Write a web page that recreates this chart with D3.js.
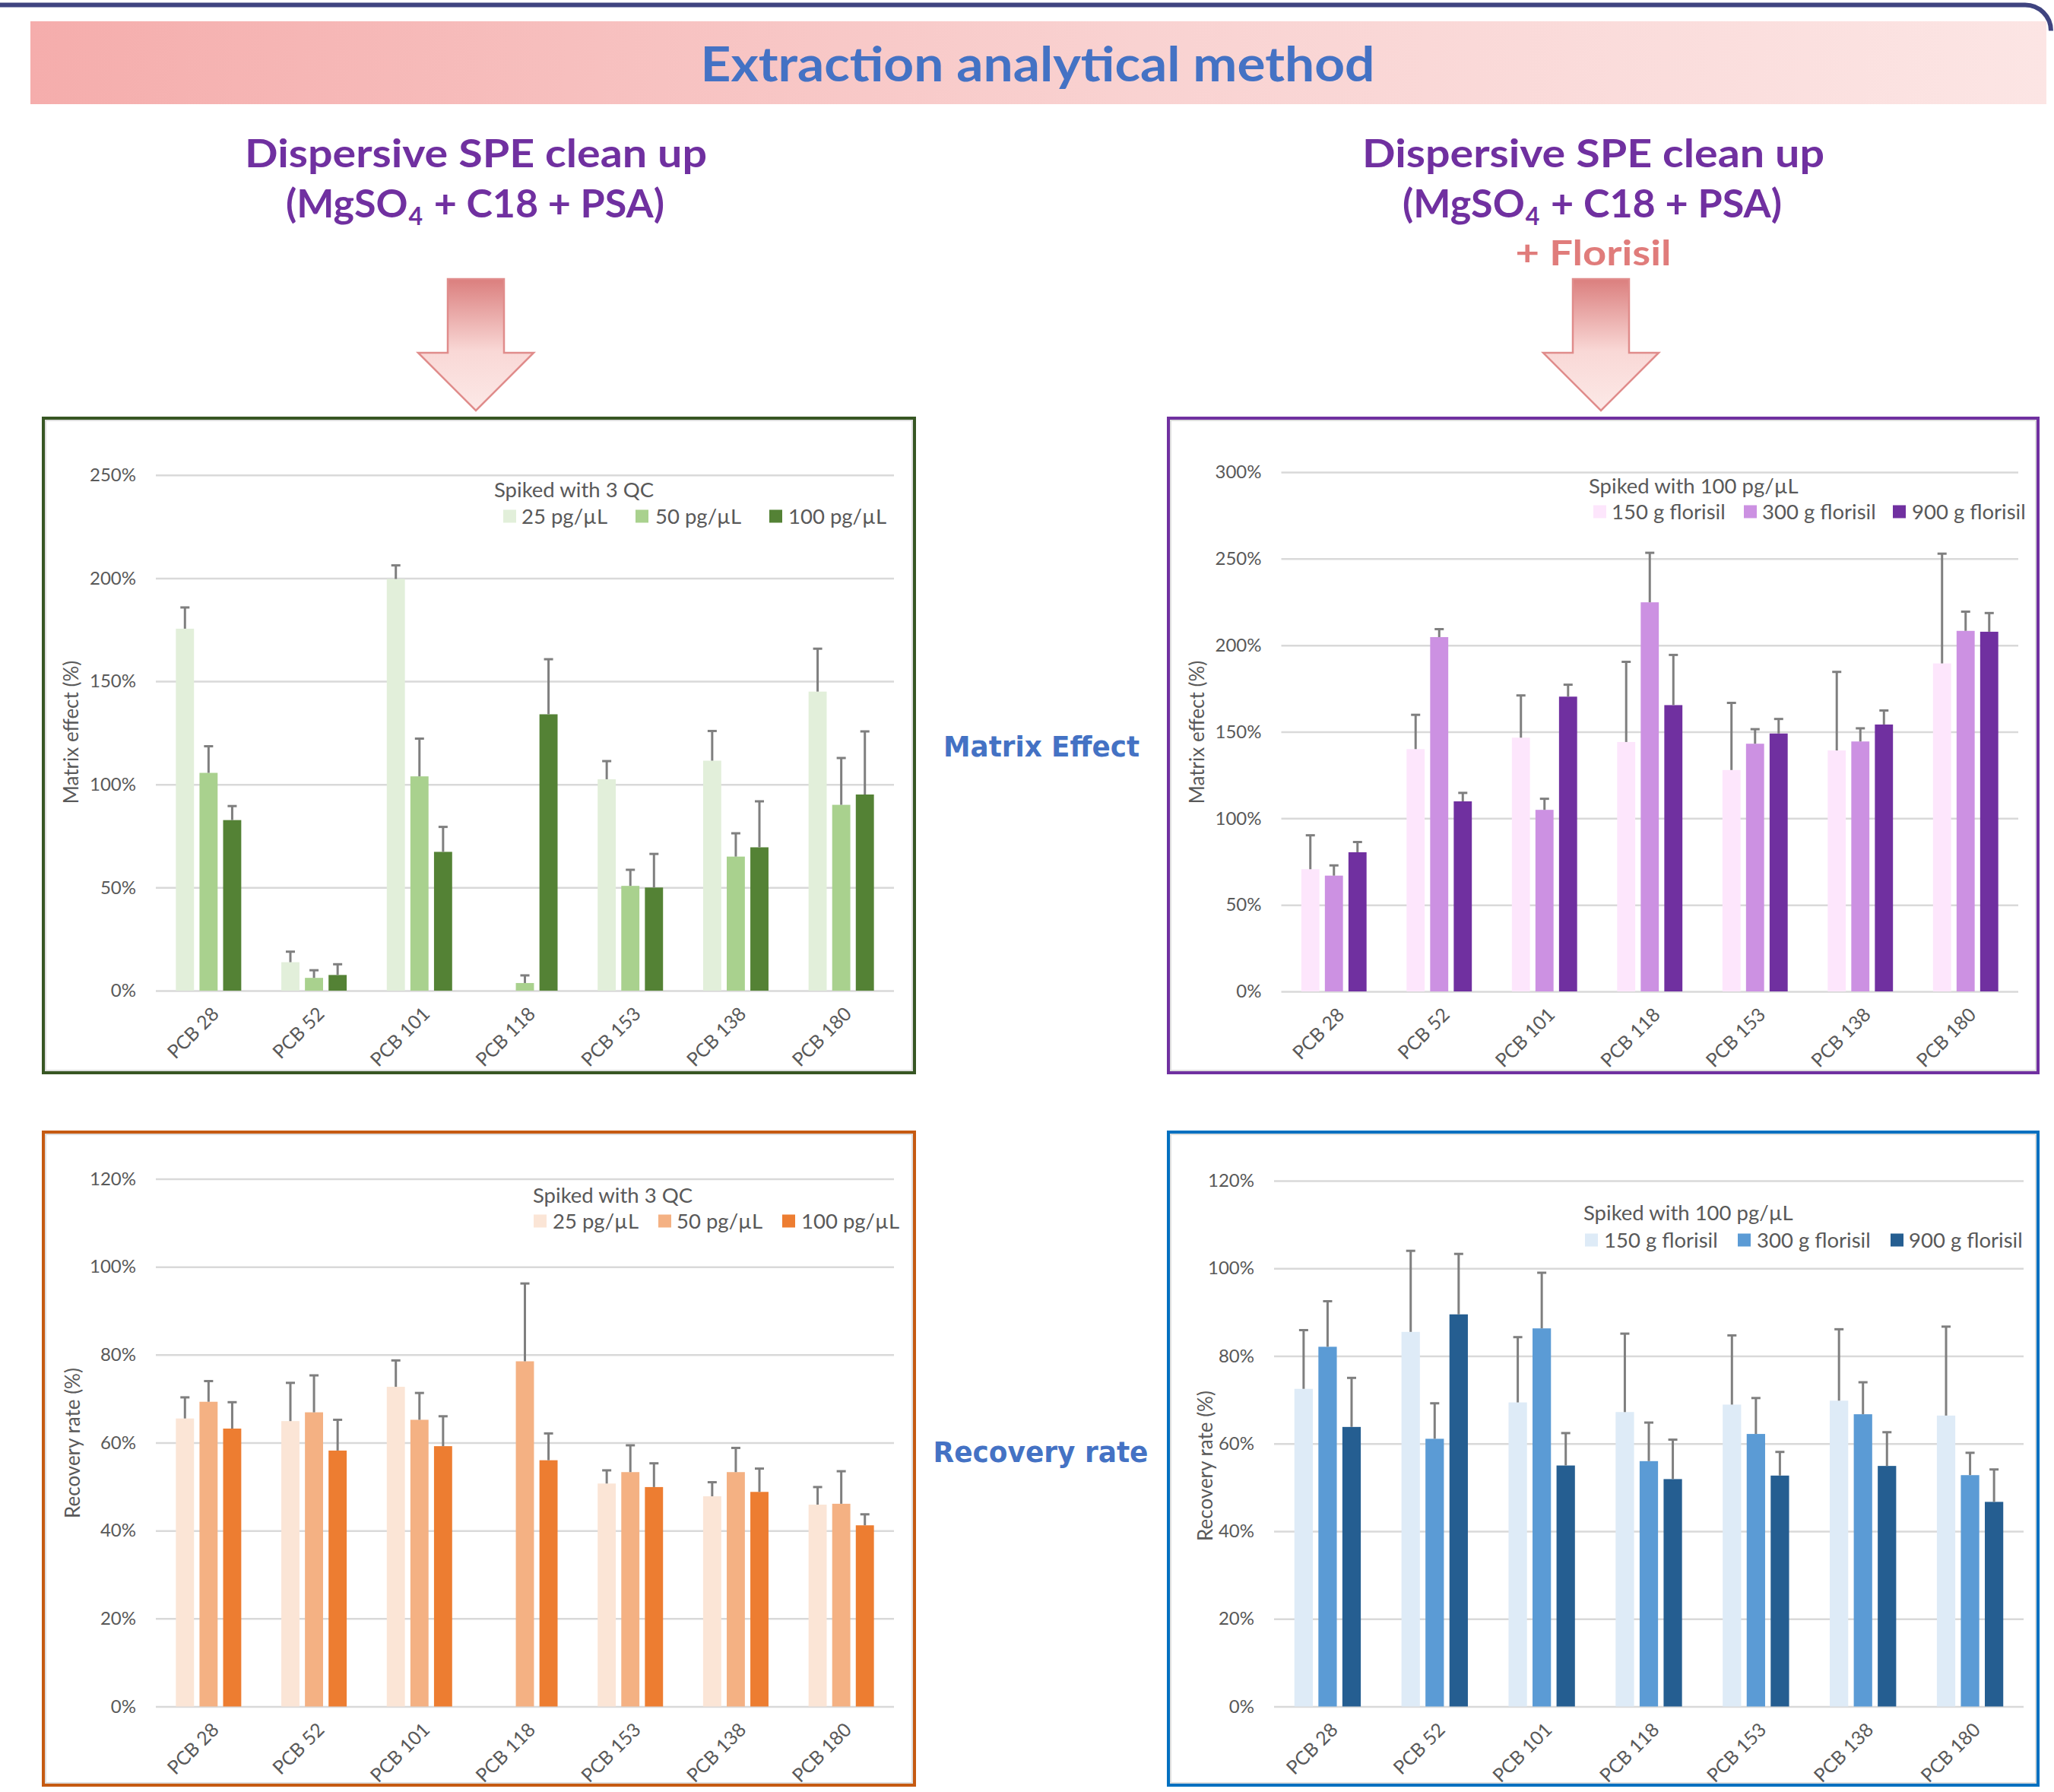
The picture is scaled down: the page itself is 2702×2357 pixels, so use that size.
<!DOCTYPE html>
<html>
<head>
<meta charset="utf-8">
<script src="https://cdn.jsdelivr.net/npm/d3@7"></script>
<style>
  html, body { margin: 0; padding: 0; background: #ffffff; }
  svg { display: block; }
</style>
</head>
<body>
<script>
// ---- Data ---------------------------------------------------------------
const categories = ["PCB 28", "PCB 52", "PCB 101", "PCB 118", "PCB 153", "PCB 138", "PCB 180"];
const qcLevels = ["25 pg/µL", "50 pg/µL", "100 pg/µL"];
const florisilLevels = ["150 g florisil", "300 g florisil", "900 g florisil"];

// Matrix effect (%) - dispersive SPE clean-up, spiked with 3 QC levels
const me25 = [175.5, 13.8, 199.6, null, 102.5, 111.5, 145.0];
const me25Err = [10.3, 5.1, 6.6, null, 8.8, 14.4, 20.8];
const me50 = [105.6, 6.2, 103.9, 3.7, 50.8, 65.0, 90.1];
const me50Err = [12.9, 3.7, 18.3, 3.7, 7.8, 11.3, 22.7];
const me100 = [82.7, 7.6, 67.3, 134.0, 50.0, 69.5, 95.1];
const me100Err = [6.8, 5.2, 12.1, 26.7, 16.3, 22.3, 30.6];

// Matrix effect (%) - dispersive SPE + florisil, spiked with 100 pg/µL
const mf150 = [70.6, 140.0, 146.6, 144.1, 127.9, 139.2, 189.5];
const mf150Err = [19.6, 19.8, 24.4, 46.3, 38.8, 45.4, 63.4];
const mf300 = [66.9, 204.7, 104.9, 224.8, 143.1, 144.4, 208.3];
const mf300Err = [5.9, 4.6, 6.4, 28.6, 8.4, 7.6, 11.1];
const mf900 = [80.4, 109.8, 170.3, 165.4, 149.0, 154.2, 207.8];
const mf900Err = [5.9, 4.9, 6.9, 29.0, 8.4, 8.1, 10.8];

// Recovery rate (%) - dispersive SPE clean-up, spiked with 3 QC levels
const rc25 = [65.5, 64.9, 72.7, null, 50.7, 47.8, 45.9];
const rc25Err = [4.8, 8.7, 6.0, null, 3.0, 3.2, 4.0];
const rc50 = [69.3, 66.9, 65.2, 78.5, 53.3, 53.3, 46.1];
const rc50Err = [4.7, 8.4, 6.1, 17.7, 6.1, 5.5, 7.4];
const rc100 = [63.2, 58.2, 59.2, 56.0, 49.9, 48.8, 41.2];
const rc100Err = [6.0, 7.0, 6.8, 6.1, 5.4, 5.3, 2.5];

// Recovery rate (%) - dispersive SPE + florisil, spiked with 100 pg/µL
const rf150 = [72.5, 85.5, 69.4, 67.2, 68.9, 69.8, 66.4];
const rf150Err = [13.4, 18.5, 14.9, 17.9, 15.8, 16.3, 20.3];
const rf300 = [82.1, 61.1, 86.3, 56.0, 62.2, 66.7, 52.8];
const rf300Err = [10.4, 8.1, 12.7, 8.8, 8.2, 7.3, 5.1];
const rf900 = [63.8, 89.5, 55.0, 51.9, 52.7, 54.9, 46.7];
const rf900Err = [11.2, 13.8, 7.4, 9.0, 5.4, 7.7, 7.4];

// ---- Canvas ---------------------------------------------------------------
const W = 2702, H = 2357;
const svg = d3.select("body").append("svg").attr("width", W).attr("height", H);
svg.append("rect").attr("width", W).attr("height", H).attr("fill", "#ffffff");

const defs = svg.append("defs");
const banner = defs.append("linearGradient").attr("id", "bannerGrad")
  .attr("x1", "0%").attr("x2", "100%").attr("y1", "0%").attr("y2", "0%");
banner.append("stop").attr("offset", "0%").attr("stop-color", "#f5adac");
banner.append("stop").attr("offset", "55%").attr("stop-color", "#f9d2d1");
banner.append("stop").attr("offset", "100%").attr("stop-color", "#fce5e4");

const arrowGrad = defs.append("linearGradient").attr("id", "arrowGrad")
  .attr("x1", "0%").attr("x2", "0%").attr("y1", "0%").attr("y2", "100%");
arrowGrad.append("stop").attr("offset", "0%").attr("stop-color", "#db7f7e");
arrowGrad.append("stop").attr("offset", "55%").attr("stop-color", "#f9d8d6");
arrowGrad.append("stop").attr("offset", "100%").attr("stop-color", "#fce9e7");

// ---- Header -------------------------------------------------------------
svg.append("path")
  .attr("d", "M0,6.5 L2664,6.5 A34,34 0 0 1 2698,40.5")
  .attr("fill", "none").attr("stroke", "#3f4480").attr("stroke-width", 6);

svg.append("rect").attr("x", 40).attr("y", 28).attr("width", 2652).attr("height", 109)
  .attr("fill", "url(#bannerGrad)");

svg.append("text")
  .attr("x", 1365).attr("y", 107).attr("text-anchor", "middle")
  .attr("font-family", "Lato").attr("font-weight", 700).attr("font-size", 64)
  .attr("fill", "#4472c4")
  .attr("textLength", 887).attr("lengthAdjust", "spacingAndGlyphs")
  .text("Extraction analytical method");

const purple = "#7030a0";

// Formula line built from separate pieces so the subscript sits on its own
function formulaLine(left, right, baseline) {
  const g = svg.append("g");
  const parts = [
    { t: "(MgSO", size: 52, dy: 0 },
    { t: "4", size: 32, dy: 10 },
    { t: "\u00a0+ C18 + PSA)", size: 52, dy: 0 }
  ];
  const nodes = parts.map(p => g.append("text")
    .attr("y", p.dy)
    .attr("font-family", "Lato").attr("font-weight", 700).attr("font-size", p.size)
    .attr("fill", purple).text(p.t));
  let pos = 0;
  nodes.forEach((n, i) => {
    n.attr("x", pos);
    pos += n.node().getComputedTextLength() + (i === 1 ? 2 : 1);
  });
  const k = (right - left) / pos;
  g.attr("transform", `translate(${left},${baseline}) scale(${k},1)`);
}

function headline(cx, left, right, fLeft, fRight, withFlorisil) {
  svg.append("text")
    .attr("x", cx).attr("y", 220).attr("text-anchor", "middle")
    .attr("font-family", "Lato").attr("font-weight", 700).attr("font-size", 52)
    .attr("fill", purple)
    .attr("textLength", right - left).attr("lengthAdjust", "spacingAndGlyphs")
    .text("Dispersive SPE clean up");
  formulaLine(fLeft, fRight, 286);
  if (withFlorisil) {
    svg.append("text")
      .attr("x", cx).attr("y", 349).attr("text-anchor", "middle")
      .attr("font-family", "Lato").attr("font-weight", 700).attr("font-size", 46)
      .attr("fill", "#e07c7b")
      .attr("textLength", 205).attr("lengthAdjust", "spacingAndGlyphs")
      .text("+ Florisil");
  }
}
headline(626, 322, 930, 376, 875, false);
headline(2096, 1792, 2400, 1845, 2345, true);

function arrow(cx) {
  const sw = 37, hw = 76, top = 367, neck = 464, tip = 540;
  svg.append("path")
    .attr("d", `M${cx - sw},${top} L${cx + sw},${top} L${cx + sw},${neck} L${cx + hw},${neck} ` +
               `L${cx},${tip} L${cx - hw},${neck} L${cx - sw},${neck} Z`)
    .attr("fill", "url(#arrowGrad)").attr("stroke", "#e08c8b").attr("stroke-width", 2.5);
}
arrow(626);
arrow(2106);

// Row labels between the panels
svg.append("text")
  .attr("x", 1370).attr("y", 995).attr("text-anchor", "middle")
  .attr("font-family", "DejaVu Sans").attr("font-weight", 700).attr("font-size", 38)
  .attr("fill", "#4472c4")
  .attr("textLength", 258).attr("lengthAdjust", "spacingAndGlyphs")
  .text("Matrix Effect");
svg.append("text")
  .attr("x", 1369).attr("y", 1923).attr("text-anchor", "middle")
  .attr("font-family", "DejaVu Sans").attr("font-weight", 700).attr("font-size", 38)
  .attr("fill", "#4472c4")
  .attr("textLength", 283).attr("lengthAdjust", "spacingAndGlyphs")
  .text("Recovery rate");

// ---- Bar panels ---------------------------------------------------------
const textGray = "#595959";

function drawPanel(cfg) {
  const g = svg.append("g");
  const [fx0, fy0, fx1, fy1] = cfg.frame;

  // frame with a faint inner shade
  g.append("rect")
    .attr("x", fx0 + 5).attr("y", fy0 + 5).attr("width", fx1 - fx0 - 10).attr("height", fy1 - fy0 - 10)
    .attr("fill", "none").attr("stroke", "#d0d0d0").attr("stroke-width", 2).attr("opacity", 0.7);
  g.append("rect")
    .attr("x", fx0 + 2).attr("y", fy0 + 2).attr("width", fx1 - fx0 - 4).attr("height", fy1 - fy0 - 4)
    .attr("fill", "none").attr("stroke", cfg.border).attr("stroke-width", 4);

  const x = d3.scaleBand().domain(categories).range([cfg.left, cfg.right]);
  const y = d3.scaleLinear().domain([0, cfg.max]).range([cfg.y0, cfg.yTop]);
  const bw = x.bandwidth();
  const pitch = bw * 0.224, barW = bw * 0.172;

  const yAxis = d3.axisLeft(y)
    .tickValues(d3.range(0, cfg.max + 1, cfg.step))
    .tickSize(-(cfg.right - cfg.left))
    .tickPadding(26)
    .tickFormat(d => d + "%");
  const ga = g.append("g").attr("transform", `translate(${cfg.left},0)`).call(yAxis);
  ga.select(".domain").remove();
  ga.selectAll(".tick line").attr("stroke", "#d9d9d9").attr("stroke-width", 2.5);
  ga.selectAll(".tick text")
    .attr("fill", textGray).attr("font-family", "Lato").attr("font-size", 24);

  // bars with plus-side error bars
  cfg.series.forEach((s, i) => {
    const rows = categories.map((c, j) => ({ c, v: s.values[j], e: s.errors[j] }))
      .filter(d => d.v != null);
    const cxOf = d => x(d.c) + bw / 2 + (i - 1) * pitch;
    g.append("g").selectAll("rect").data(rows).join("rect")
      .attr("x", d => cxOf(d) - barW / 2)
      .attr("y", d => y(d.v))
      .attr("width", barW)
      .attr("height", d => y(0) - y(d.v))
      .attr("fill", s.color);
    const eb = g.append("g").attr("stroke", "#7f7f7f").attr("stroke-width", 3).attr("fill", "none");
    eb.selectAll("line.v").data(rows).join("line").attr("class", "v")
      .attr("x1", cxOf).attr("x2", cxOf)
      .attr("y1", d => y(d.v)).attr("y2", d => y(d.v + d.e));
    eb.selectAll("line.c").data(rows).join("line").attr("class", "c")
      .attr("x1", d => cxOf(d) - 6).attr("x2", d => cxOf(d) + 6)
      .attr("y1", d => y(d.v + d.e)).attr("y2", d => y(d.v + d.e));
  });

  // category labels
  g.append("g").selectAll("text").data(categories).join("text")
    .attr("transform", d => `translate(${x(d) + bw / 2 + 9},${cfg.y0 + 26}) rotate(-45)`)
    .attr("text-anchor", "end").attr("dy", "0.35em")
    .attr("fill", textGray).attr("font-family", "Lato").attr("font-size", 25)
    .text(d => d);

  // axis title
  g.append("text")
    .attr("transform", `translate(${cfg.titleX},${cfg.titleY}) rotate(-90)`)
    .attr("text-anchor", "middle").attr("dy", "0.35em")
    .attr("fill", textGray).attr("font-family", "Lato").attr("font-size", 26)
    .text(cfg.axisTitle);

  // legend
  const lg = cfg.legend;
  g.append("text")
    .attr("x", lg.x).attr("y", lg.titleY).attr("dy", "0.35em")
    .attr("fill", textGray).attr("font-family", "Lato").attr("font-size", 27.5)
    .text(lg.title);
  cfg.series.forEach((s, i) => {
    g.append("rect")
      .attr("x", lg.swatchX[i]).attr("y", lg.rowY - 8.5).attr("width", 17).attr("height", 17)
      .attr("fill", s.color);
    g.append("text")
      .attr("x", lg.textX[i]).attr("y", lg.rowY).attr("dy", "0.35em")
      .attr("fill", textGray).attr("font-family", "Lato").attr("font-size", 27.5)
      .text(lg.labels[i]);
  });
}

drawPanel({
  frame: [55, 548, 1205, 1413], border: "#375623",
  left: 205, right: 1176, y0: 1303, yTop: 624.8, max: 250, step: 50,
  axisTitle: "Matrix effect (%)", titleX: 94, titleY: 963,
  series: [
    { values: me25, errors: me25Err, color: "#e2efda" },
    { values: me50, errors: me50Err, color: "#a9d18e" },
    { values: me100, errors: me100Err, color: "#548235" }
  ],
  legend: { title: "Spiked with 3 QC", x: 650, titleY: 644, rowY: 679,
            swatchX: [662, 836, 1012], textX: [686, 862, 1037], labels: qcLevels }
});

drawPanel({
  frame: [1535, 548, 2683, 1413], border: "#7030a0",
  left: 1685.5, right: 2655, y0: 1304, yTop: 621, max: 300, step: 50,
  axisTitle: "Matrix effect (%)", titleX: 1575, titleY: 963,
  series: [
    { values: mf150, errors: mf150Err, color: "#fde6fc" },
    { values: mf300, errors: mf300Err, color: "#cc91e2" },
    { values: mf900, errors: mf900Err, color: "#7030a0" }
  ],
  legend: { title: "Spiked with 100 pg/µL", x: 2090, titleY: 639, rowY: 673,
            swatchX: [2096, 2294, 2490], textX: [2120, 2318, 2515], labels: florisilLevels }
});

drawPanel({
  frame: [55, 1487, 1205, 2350], border: "#c55a11",
  left: 205, right: 1176, y0: 2244.5, yTop: 1550.5, max: 120, step: 20,
  axisTitle: "Recovery rate (%)", titleX: 96, titleY: 1898,
  series: [
    { values: rc25, errors: rc25Err, color: "#fbe5d6" },
    { values: rc50, errors: rc50Err, color: "#f4b183" },
    { values: rc100, errors: rc100Err, color: "#ed7d31" }
  ],
  legend: { title: "Spiked with 3 QC", x: 701, titleY: 1572, rowY: 1606,
            swatchX: [702, 866, 1029], textX: [727, 890, 1054], labels: qcLevels }
});

drawPanel({
  frame: [1535, 1487, 2683, 2350], border: "#0070c0",
  left: 1676, right: 2662, y0: 2244.5, yTop: 1553, max: 120, step: 20,
  axisTitle: "Recovery rate (%)", titleX: 1586, titleY: 1928,
  series: [
    { values: rf150, errors: rf150Err, color: "#deebf7" },
    { values: rf300, errors: rf300Err, color: "#5b9bd5" },
    { values: rf900, errors: rf900Err, color: "#255e91" }
  ],
  legend: { title: "Spiked with 100 pg/µL", x: 2083, titleY: 1595, rowY: 1631,
            swatchX: [2085, 2286, 2487], textX: [2110, 2311, 2511], labels: florisilLevels }
});
</script>
</body>
</html>
